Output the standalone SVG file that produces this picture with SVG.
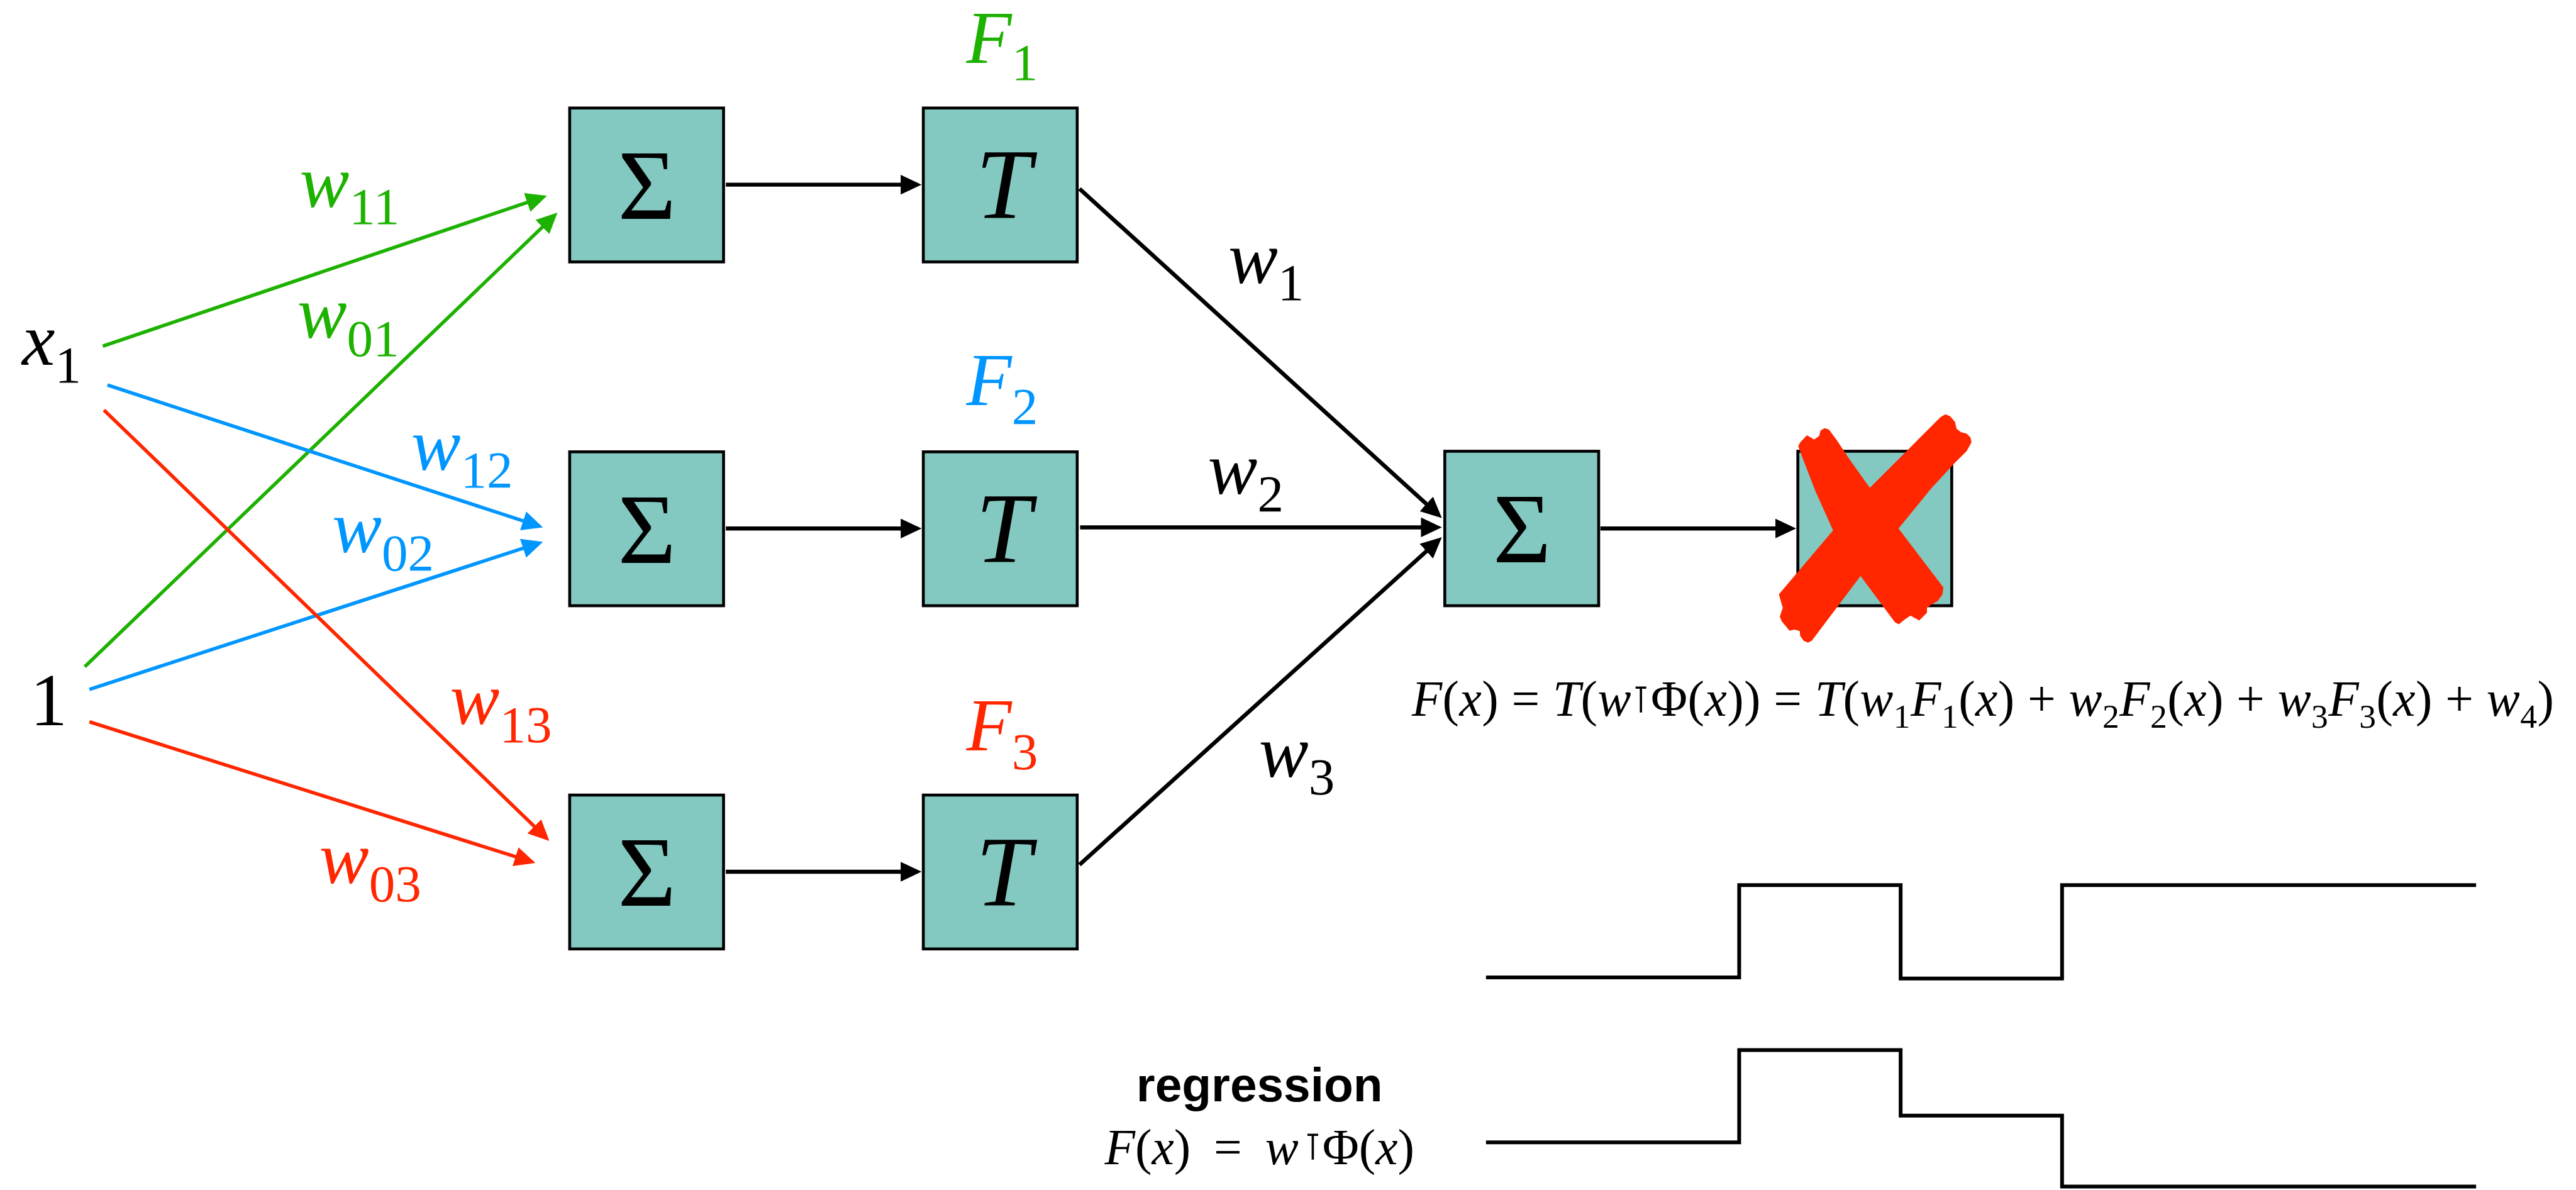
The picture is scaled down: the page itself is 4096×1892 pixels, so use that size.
<svg xmlns="http://www.w3.org/2000/svg" width="4096" height="1892" viewBox="0 0 4096 1892">
<style>
.box{fill:#83c9c1;stroke:#000;stroke-width:5}
.lbl{font-family:"Liberation Serif","Times New Roman",serif;font-size:128px;font-style:italic}
.up{font-style:normal}
.sub{font-style:normal;font-size:90px}
.sym{font-family:"Liberation Serif","Times New Roman",serif;font-size:172px;text-anchor:middle}
.it{font-style:italic}
.eq{font-family:"Liberation Serif","Times New Roman",serif;font-size:86px}
.s{font-size:58px}
.tp{font-family:"DejaVu Sans",sans-serif;font-size:64px}
.reg{font-family:"Liberation Sans",Arial,sans-serif;font-weight:bold;font-size:83px}
.k{stroke:#000;stroke-width:7;fill:none}
.g{stroke:#1db100;stroke-width:6;fill:none}
.b{stroke:#0096ff;stroke-width:6;fill:none}
.r{stroke:#ff2600;stroke-width:6;fill:none}
.step{stroke:#000;stroke-width:6.5;fill:none}
</style>
<defs>
<marker id="aK" viewBox="0 0 36 34" markerWidth="36" markerHeight="34" refX="22" refY="17" orient="auto" markerUnits="userSpaceOnUse"><path d="M0,0 L36,17 L0,34 z" fill="#000"/></marker>
<marker id="aG" viewBox="0 0 36 34" markerWidth="36" markerHeight="34" refX="22" refY="17" orient="auto" markerUnits="userSpaceOnUse"><path d="M0,0 L36,17 L0,34 z" fill="#1db100"/></marker>
<marker id="aB" viewBox="0 0 36 34" markerWidth="36" markerHeight="34" refX="22" refY="17" orient="auto" markerUnits="userSpaceOnUse"><path d="M0,0 L36,17 L0,34 z" fill="#0096ff"/></marker>
<marker id="aR" viewBox="0 0 36 34" markerWidth="36" markerHeight="34" refX="22" refY="17" orient="auto" markerUnits="userSpaceOnUse"><path d="M0,0 L36,17 L0,34 z" fill="#ff2600"/></marker>
</defs>
<g transform="scale(0.92335)">
<g id="connectors">
<line class="g" x1="177" y1="596" x2="928.7" y2="341.5" marker-end="url(#aG)"/>
<line class="g" x1="146" y1="1148" x2="949.9" y2="375.7" marker-end="url(#aG)"/>
<line class="b" x1="185" y1="663" x2="921.7" y2="903.7" marker-end="url(#aB)"/>
<line class="b" x1="154" y1="1187" x2="921.7" y2="937.3" marker-end="url(#aB)"/>
<line class="r" x1="179" y1="706" x2="935.9" y2="1438.3" marker-end="url(#aR)"/>
<line class="r" x1="154" y1="1243" x2="908.7" y2="1481.8" marker-end="url(#aR)"/>
<line class="k" x1="1250" y1="318" x2="1573" y2="318" marker-end="url(#aK)"/>
<line class="k" x1="1250" y1="910" x2="1573" y2="910" marker-end="url(#aK)"/>
<line class="k" x1="1250" y1="1501" x2="1573" y2="1501" marker-end="url(#aK)"/>
<line class="k" x1="1859" y1="325" x2="2472.6" y2="882.6" marker-end="url(#aK)"/>
<line class="k" x1="1860" y1="908" x2="2469" y2="908" marker-end="url(#aK)"/>
<line class="k" x1="1859" y1="1489" x2="2472.6" y2="934.4" marker-end="url(#aK)"/>
<line class="k" x1="2756" y1="910" x2="3079" y2="910" marker-end="url(#aK)"/>
</g>
<g id="input-x1"><text class="lbl" x="38" y="628">x<tspan class="sub" dy="30">1</tspan></text></g>
<g id="input-1"><text class="lbl up" x="84" y="1249" text-anchor="middle">1</text></g>
<g id="weights">
<text class="lbl" x="516" y="356" fill="#1db100">w<tspan class="sub" dy="30">11</tspan></text>
<text class="lbl" x="512" y="582" fill="#1db100">w<tspan class="sub" dy="31">01</tspan></text>
<text class="lbl" x="708" y="809" fill="#0096ff">w<tspan class="sub" dy="30">12</tspan></text>
<text class="lbl" x="572" y="951" fill="#0096ff">w<tspan class="sub" dy="31">02</tspan></text>
<text class="lbl" x="775" y="1247" fill="#ff2600">w<tspan class="sub" dy="31">13</tspan></text>
<text class="lbl" x="550" y="1521" fill="#ff2600">w<tspan class="sub" dy="31">03</tspan></text>
<text class="lbl" x="2115" y="487">w<tspan class="sub" dy="30">1</tspan></text>
<text class="lbl" x="2080" y="850">w<tspan class="sub" dy="30">2</tspan></text>
<text class="lbl" x="2168" y="1337">w<tspan class="sub" dy="31">3</tspan></text>
</g>
<g id="sum1"><rect class="box" x="981" y="186" width="265" height="265"/><text class="sym" x="1114" y="377">Σ</text></g>
<g id="sum2"><rect class="box" x="981" y="778" width="265" height="265"/><text class="sym" x="1114" y="969">Σ</text></g>
<g id="sum3"><rect class="box" x="981" y="1369" width="265" height="265"/><text class="sym" x="1114" y="1560">Σ</text></g>
<g id="t1"><rect class="box" x="1590" y="186" width="265" height="265"/><text class="sym it" x="1728" y="376">T</text><text class="lbl" x="1664" y="108" fill="#1db100">F<tspan class="sub" dy="30">1</tspan></text></g>
<g id="t2"><rect class="box" x="1590" y="778" width="265" height="265"/><text class="sym it" x="1728" y="968">T</text><text class="lbl" x="1664" y="698" fill="#0096ff">F<tspan class="sub" dy="32">2</tspan></text></g>
<g id="t3"><rect class="box" x="1590" y="1369" width="265" height="265"/><text class="sym it" x="1728" y="1559">T</text><text class="lbl" x="1664" y="1292" fill="#ff2600">F<tspan class="sub" dy="33">3</tspan></text></g>
<g id="sum4"><rect class="box" x="2488" y="777" width="265" height="266"/><text class="sym" x="2621" y="968">Σ</text></g>
<g id="output">
<rect class="box" x="3096" y="777" width="265" height="266"/>
<g transform="translate(3000,680) scale(0.33333)" fill="#ff2600">
<polygon points="290,265 300,245 335,208 372,230 398,212 405,185 425,172 448,178 490,235 560,340 660,480 808,690 1040,995 1035,1030 1010,1065 975,1085 955,1100 955,1125 915,1165 870,1140 840,1160 810,1185 790,1175 612,935 470,700 380,500 310,320"/>
<polygon points="1025,115 1050,100 1075,110 1100,140 1108,175 1130,192 1160,200 1180,220 1185,245 1160,290 1100,350 980,480 808,690 612,935 360,1270 340,1280 318,1270 300,1245 298,1220 270,1212 245,1218 205,1170 195,1145 210,1100 190,1030 470,700 660,480 850,290"/>
</g>
</g>
<g id="equation">
<text class="eq" x="2431" y="1233" textLength="1967" lengthAdjust="spacing"><tspan class="it">F</tspan>(<tspan class="it">x</tspan>) = <tspan class="it">T</tspan>(<tspan class="it">w</tspan><tspan class="tp" dy="-6">⊺</tspan><tspan dy="6">Φ(</tspan><tspan class="it">x</tspan>)) = <tspan class="it">T</tspan>(<tspan class="it">w</tspan><tspan class="s" dy="20">1</tspan><tspan class="it" dy="-20">F</tspan><tspan class="s" dy="20">1</tspan><tspan dy="-20">(</tspan><tspan class="it">x</tspan>) + <tspan class="it">w</tspan><tspan class="s" dy="20">2</tspan><tspan class="it" dy="-20">F</tspan><tspan class="s" dy="20">2</tspan><tspan dy="-20">(</tspan><tspan class="it">x</tspan>) + <tspan class="it">w</tspan><tspan class="s" dy="20">3</tspan><tspan class="it" dy="-20">F</tspan><tspan class="s" dy="20">3</tspan><tspan dy="-20">(</tspan><tspan class="it">x</tspan>) + <tspan class="it">w</tspan><tspan class="s" dy="20">4</tspan><tspan dy="-20">)</tspan></text>
</g>
<g id="steps">
<path class="step" d="M2559,1683 H2995 V1524 H3273 V1685 H3551 V1524 H4264"/>
<path class="step" d="M2559,1967 H2995 V1808 H3273 V1921 H3551 V2043 H4264"/>
</g>
<g id="regression">
<text class="reg" x="2169" y="1896" text-anchor="middle">regression</text>
<text class="eq" x="2169" y="2005" text-anchor="middle" font-size="96"><tspan class="it">F</tspan>(<tspan class="it">x</tspan>)<tspan dx="40">=</tspan><tspan class="it" dx="40">w</tspan><tspan class="tp" font-size="72" dx="8" dy="-8">⊺</tspan><tspan dy="8">Φ(</tspan><tspan class="it">x</tspan>)</text>
</g>
</g>
</svg>
